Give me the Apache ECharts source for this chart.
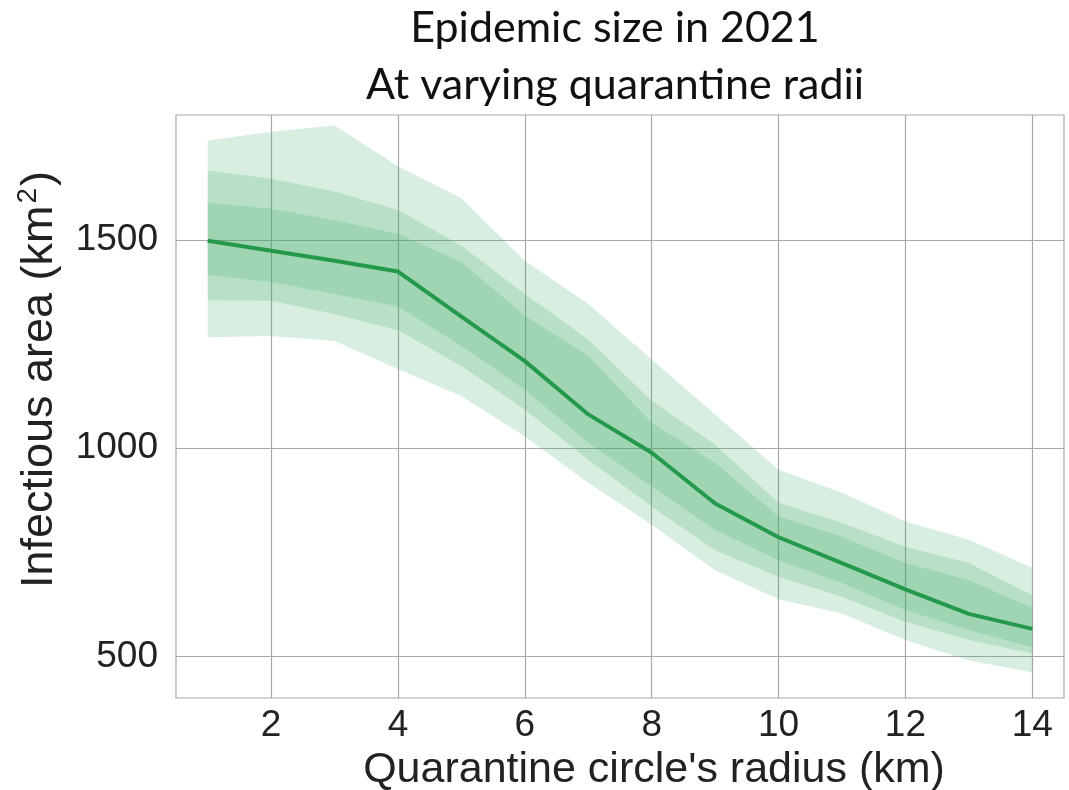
<!DOCTYPE html>
<html>
<head>
<meta charset="utf-8">
<script src="https://cdn.jsdelivr.net/npm/echarts@6/dist/echarts.min.js"></script>
<style>html,body{margin:0;padding:0;background:#fff}#c{width:1069px;height:790px}</style>
</head>
<body>
<div id="c"></div>
<script>
const radii = [1,2,3,4,5,6,7,8,9,10,11,12,13,14];
const median  = [1498,1474,1450,1424,1316,1209,1081,989,867,786,724,661,602,566];
const outerHi = [1739,1760,1775,1677,1600,1450,1346,1213,1081,948,893,824,780,712];
const midHi   = [1667,1647,1616,1572,1486,1370,1261,1113,1008,869,820,763,724,647];
const innerHi = [1589,1575,1547,1514,1447,1318,1221,1061,965,836,787,724,683,616];
const innerLo = [1416,1399,1370,1340,1245,1141,1013,908,804,731,676,611,563,522];
const midLo   = [1355,1354,1322,1283,1197,1093,972,860,755,691,643,583,539,507];
const outerLo = [1266,1269,1257,1190,1125,1028,917,816,707,637,603,539,490,462];
const xTicks = [2,4,6,8,10,12,14];
const yTicks = [500,1000,1500];

const bandColor = '#3aa864';
function band(name, lo, hi) {
  return {
    name: name, type: 'custom', silent: true, z: 1,
    data: radii.map((x, i) => [x, lo[i], hi[i]]),
    encode: {x: 0, y: [1, 2]},
    renderItem: function (params, api) {
      if (params.dataIndex !== 0) return null;
      const pts = [];
      for (let i = 0; i < radii.length; i++) pts.push(api.coord([radii[i], hi[i]]));
      for (let i = radii.length - 1; i >= 0; i--) pts.push(api.coord([radii[i], lo[i]]));
      return {type: 'polygon', shape: {points: pts}, style: {fill: bandColor, opacity: 0.2}};
    }
  };
}

const chart = echarts.init(document.getElementById('c'), null, {renderer: 'canvas'});
chart.setOption({
  animation: false,
  backgroundColor: '#fff',
  title: [
    {text: 'Epidemic size in 2021', left: 610, top: 2, textAlign: 'center',
     textStyle: {fontFamily: 'Lato', fontWeight: 'normal', fontSize: 43, color: '#111'}},
    {text: 'At varying quarantine radii', left: 610, top: 59, textAlign: 'center',
     textStyle: {fontFamily: 'Lato', fontWeight: 'normal', fontSize: 43, color: '#111'}}
  ],
  grid: {left: 176, top: 115, right: 5, bottom: 92, show: true, borderColor: '#a8a8a8', borderWidth: 1.2,
         containLabel: false, outerBoundsMode: 'none'},
  xAxis: {
    type: 'value', min: 0.5, max: 14.5,
    name: "Quarantine circle's radius (km)", nameLocation: 'middle', nameGap: 49,
    nameTextStyle: {fontFamily: 'Liberation Sans', fontSize: 43, color: '#222', padding: [0, 0, 0, 68]},
    axisLine: {show: false}, axisTick: {show: false, customValues: xTicks},
    axisLabel: {customValues: xTicks, formatter: v => String(v), fontFamily: 'Liberation Sans', fontSize: 37, color: '#222', margin: 9},
    splitLine: {show: true, lineStyle: {color: '#a8a8a8', width: 1.2}}
  },
  yAxis: {
    type: 'value', min: 400, max: 1800,
    name: '{t|Infectious area (km}{s|2}{t|)}', nameLocation: 'middle', nameGap: 110, nameRotate: 90,
    nameTextStyle: {fontFamily: 'Liberation Sans', fontSize: 45, color: '#222', padding: [0, 0, 0, 54],
      rich: {t: {fontFamily: 'Liberation Sans', fontSize: 45, color: '#222'},
             s: {fontFamily: 'Liberation Sans', fontSize: 28, color: '#222', verticalAlign: 'top', padding: [0, 2, 24, 2]}}},
    axisLine: {show: false}, axisTick: {show: false, customValues: yTicks},
    axisLabel: {customValues: yTicks, formatter: v => String(v), fontFamily: 'Liberation Sans', fontSize: 37, color: '#222', margin: 18},
    splitLine: {show: true, lineStyle: {color: '#a8a8a8', width: 1.2}}
  },
  series: [
    band('outer', outerLo, outerHi),
    band('mid', midLo, midHi),
    band('inner', innerLo, innerHi),
    {name: 'median', type: 'line', symbol: 'none', z: 5,
     lineStyle: {color: '#24994c', width: 4},
     data: radii.map((x, i) => [x, median[i]])}
  ]
});
</script>
</body>
</html>
